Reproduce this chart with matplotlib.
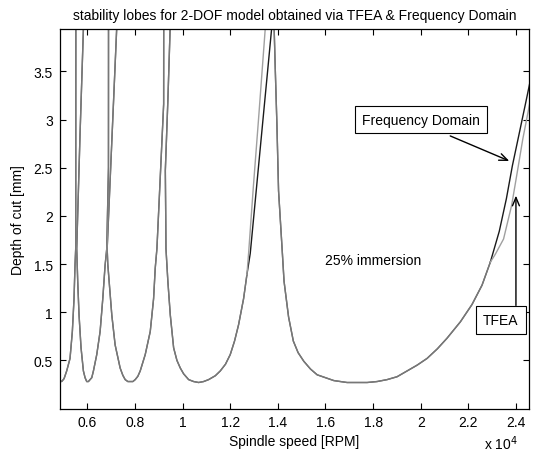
import matplotlib
matplotlib.use("Agg")
import matplotlib.pyplot as plt
from matplotlib.ticker import FuncFormatter, FixedLocator

plt.rcParams['font.family'] = ['Liberation Sans', 'DejaVu Sans']

# stability lobes, spindle speed [RPM] vs depth of cut [mm]
# lobe branches shared by both models
lobe1_rpm = [4850, 4920, 5020, 5130, 5270, 5368, 5438, 5480, 5509, 5512, 5514]
lobe1_depth = [0.29, 0.28, 0.31, 0.39, 0.52, 0.80, 1.14, 1.49, 1.66, 2.80, 4.00]

lobe2_rpm = [5840, 5691, 5551, 5593, 5649, 5733, 5832, 5902, 5972, 6042, 6112,
             6183, 6253, 6393, 6534, 6646, 6744, 6814, 6885, 6887]
lobe2_depth = [4.00, 2.85, 1.66, 1.32, 0.97, 0.63, 0.39, 0.32, 0.28, 0.28, 0.30,
               0.32, 0.39, 0.56, 0.80, 1.14, 1.49, 1.66, 2.50, 4.00]

lobe3_rpm = [7240, 7030, 6830, 6856, 6913, 7025, 7165, 7376, 7488, 7587, 7699,
             7797, 7910, 8008, 8120, 8218, 8429, 8640, 8780, 8850, 8920, 9060,
             9203, 9205]
lobe3_depth = [4.00, 2.80, 1.66, 1.50, 1.32, 0.97, 0.66, 0.42, 0.345, 0.30, 0.28,
               0.28, 0.28, 0.30, 0.335, 0.39, 0.56, 0.80, 1.14, 1.46, 1.66, 2.40,
               3.16, 4.00]

lobe4_rpm = [9482, 9380, 9273, 9290, 9300, 9380, 9482, 9622, 9760, 9902, 10042,
             10252, 10462, 10671, 10881, 11091, 11371, 11581, 11800, 12000, 12180,
             12350, 12560, 12700]
lobe4_depth = [4.00, 3.20, 2.47, 2.00, 1.66, 1.32, 0.97, 0.63, 0.50, 0.42, 0.36,
               0.30, 0.28, 0.27, 0.28, 0.30, 0.34, 0.39, 0.46, 0.56, 0.70,
               0.87, 1.14, 1.39]

lobe5_rpm = [13830, 13847, 13889, 13959, 14029, 14190, 14260, 14450, 14650, 14850,
             15091, 15370, 15650, 16000, 16350, 16909, 17329, 17749, 18168, 18588,
             19008, 19428, 19848, 20267, 20700, 21106, 21666, 22155, 22575, 22925]
lobe5_depth = [4.00, 3.92, 3.54, 2.96, 2.26, 1.61, 1.32, 0.95, 0.70, 0.58,
               0.49, 0.41, 0.35, 0.32, 0.29, 0.27, 0.27, 0.27, 0.28, 0.30,
               0.33, 0.39, 0.45, 0.52, 0.62, 0.73, 0.90, 1.08, 1.28, 1.52]

# branches where the two models separate
fd_lobe4_rpm = [12700, 12840, 13125, 13375, 13568, 13760]
fd_lobe4_depth = [1.39, 1.61, 2.35, 3.00, 3.50, 4.00]
tfea_lobe4_rpm = [12700, 12770, 12970, 13187, 13337, 13487]
tfea_lobe4_depth = [1.39, 1.61, 2.30, 3.00, 3.50, 4.00]

fd_lobe5_rpm = [22925, 23300, 23600, 23850, 24150, 24440, 24700]
fd_lobe5_depth = [1.52, 1.84, 2.18, 2.52, 2.87, 3.21, 3.52]
tfea_lobe5_rpm = [22925, 23130, 23480, 23820, 24060, 24290, 24510, 24700]
tfea_lobe5_depth = [1.52, 1.60, 1.76, 2.11, 2.46, 2.80, 3.08, 3.33]

x_ticks = [6000, 8000, 10000, 12000, 14000, 16000, 18000, 20000, 22000, 24000]
y_ticks = [0.5, 1, 1.5, 2, 2.5, 3, 3.5]

fig = plt.figure(figsize=(5.34, 4.52), dpi=100)
ax = fig.add_axes([0.1124, 0.094, 0.8783, 0.8396])

shared = [(lobe1_rpm, lobe1_depth), (lobe2_rpm, lobe2_depth),
          (lobe3_rpm, lobe3_depth), (lobe4_rpm, lobe4_depth),
          (lobe5_rpm, lobe5_depth)]

fd_color = '#1a1a1a'
tfea_color = '#a0a0a0'

# Frequency Domain curve underneath, TFEA drawn over it
for rpm, depth in shared + [(fd_lobe4_rpm, fd_lobe4_depth), (fd_lobe5_rpm, fd_lobe5_depth)]:
    ax.plot(rpm, depth, color=fd_color, lw=1.0, solid_joinstyle='round')
for rpm, depth in shared:
    ax.plot(rpm, depth, color=tfea_color, lw=1.0, alpha=0.7, solid_joinstyle='round')
for rpm, depth in [(tfea_lobe4_rpm, tfea_lobe4_depth), (tfea_lobe5_rpm, tfea_lobe5_depth)]:
    ax.plot(rpm, depth, color=tfea_color, lw=1.0, solid_joinstyle='round')

ax.set_xlim(4850, 24550)
ax.set_ylim(0, 3.94)

ax.xaxis.set_major_locator(FixedLocator(x_ticks))
ax.yaxis.set_major_locator(FixedLocator(y_ticks))
ax.xaxis.set_major_formatter(FuncFormatter(lambda v, p: f'{v / 1e4:g}'))
ax.yaxis.set_major_formatter(FuncFormatter(lambda v, p: f'{v:g}'))
ax.tick_params(direction='in', length=4, width=0.8, top=True, right=True,
               labelsize=10, pad=5)
for s in ax.spines.values():
    s.set_linewidth(0.9)

ax.set_title('stability lobes for 2-DOF model obtained via TFEA & Frequency Domain',
             fontsize=10, pad=7)
ax.set_xlabel('Spindle speed [RPM]', fontsize=10, labelpad=3)
ax.set_ylabel('Depth of cut [mm]', fontsize=10, labelpad=6)
ax.text(0.977, -0.09, r'x 10$^4$', transform=ax.transAxes, ha='right',
        va='center', fontsize=10)

ax.text(16000, 1.54, '25% immersion', fontsize=10, ha='left', va='center')

box = dict(boxstyle='square,pad=0.5', fc='white', ec='black', lw=0.8)
ax.text(20000, 3.0, 'Frequency Domain', fontsize=10, ha='center', va='center',
        bbox=box)
ax.annotate('', xy=(23720, 2.57), xytext=(21240, 2.83),
            arrowprops=dict(arrowstyle='->,head_length=0.6,head_width=0.25',
                            color='black', lw=1.0, shrinkA=0, shrinkB=0))

ax.text(23370, 0.92, 'TFEA', fontsize=10, ha='center', va='center', bbox=box)
ax.annotate('', xy=(24000, 2.21), xytext=(24000, 1.07),
            arrowprops=dict(arrowstyle='->,head_length=0.6,head_width=0.25',
                            color='black', lw=1.0, shrinkA=0, shrinkB=0))

fig.savefig('out.png', dpi=100)
